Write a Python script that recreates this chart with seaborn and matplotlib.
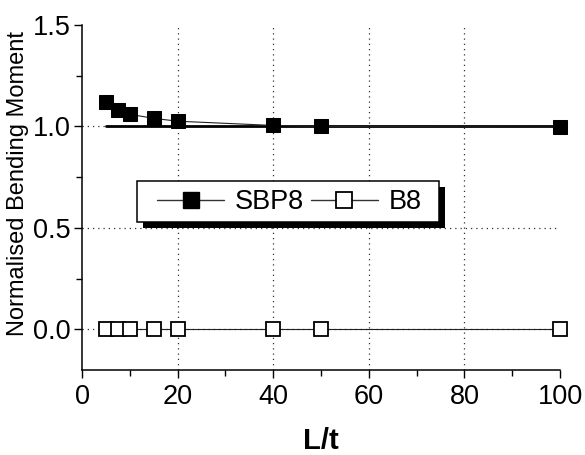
import matplotlib
matplotlib.use("Agg")
import matplotlib.pyplot as plt
import seaborn as sns
import pandas as pd
from matplotlib.lines import Line2D
from matplotlib.patches import Rectangle
from matplotlib.ticker import MultipleLocator, FormatStrFormatter

# ---- data ----
lt = [5, 7.5, 10, 15, 20, 40, 50, 100]
sbp8 = [1.12, 1.08, 1.06, 1.04, 1.026, 1.005, 1.0, 0.997]
b8 = [0.0, 0.0, 0.0, 0.0, 0.0, 0.0, 0.0, 0.0]
ref_x = [5, 100]
ref_y = [1.0, 1.0]
xticks = [0, 20, 40, 60, 80, 100]
yticks = [0.0, 0.5, 1.0, 1.5]
xgrid = [20, 40, 60, 80]
ygrid = [0.0, 0.5, 1.0]

sns.set_theme(style="white")
plt.rcParams['font.family'] = ['Liberation Sans', 'DejaVu Sans']

fig = plt.figure(figsize=(5.85, 4.55), dpi=100)
ax = fig.add_axes([82/585, 85/455, 478/585, 345/455])

df_s = pd.DataFrame({"x": lt, "y": sbp8})
df_b = pd.DataFrame({"x": lt, "y": b8})
df_r = pd.DataFrame({"x": ref_x, "y": ref_y})

grid_kw = dict(color="#333333", lw=0.9, ls=(0, (1, 3.2)), zorder=0)
for g in xgrid:
    ax.axvline(g, **grid_kw)
for g in ygrid:
    ax.axhline(g, **grid_kw)

sns.lineplot(data=df_r, x="x", y="y", ax=ax, color="black", lw=2.0, zorder=2)
sns.lineplot(data=df_s, x="x", y="y", ax=ax, color="#222222", lw=0.8,
             marker="s", markersize=10, markerfacecolor="black",
             markeredgecolor="black", zorder=3, clip_on=False)
sns.lineplot(data=df_b, x="x", y="y", ax=ax, color="#222222", lw=0.8,
             marker="s", markersize=10, markerfacecolor="white",
             markeredgecolor="black", markeredgewidth=1.3, zorder=3, clip_on=False)

ax.set_xlim(0, 100)
ax.set_ylim(-0.2, 1.5)
ax.set_xticks(xticks)
ax.set_yticks(yticks)
ax.xaxis.set_minor_locator(MultipleLocator(10))
ax.yaxis.set_minor_locator(MultipleLocator(0.25))
ax.yaxis.set_major_formatter(FormatStrFormatter("%.1f"))

for s in ["top", "right"]:
    ax.spines[s].set_visible(False)
for s in ["left", "bottom"]:
    ax.spines[s].set_color("black")
    ax.spines[s].set_linewidth(1.1)

ax.tick_params(axis="both", which="major", direction="out", length=6, width=1,
               color="black", labelsize=19.5, labelcolor="black",
               bottom=True, left=True)
ax.tick_params(axis="both", which="minor", direction="out", length=4, width=1,
               color="black", bottom=True, left=True)
ax.tick_params(axis="y", which="major", pad=2)
ax.tick_params(axis="x", which="major", pad=4)

ax.set_xlabel("L/t", fontsize=21, fontweight="bold", color="black", labelpad=12)
ax.set_ylabel("Normalised Bending Moment", fontsize=17, color="black")
ax.yaxis.set_label_coords(-0.11, 0.54)

# legend with shadowed frame
handles = [
    Line2D([], [], color="#333333", lw=1.0, marker="s", markersize=11,
           markerfacecolor="black", markeredgecolor="black"),
    Line2D([], [], color="#333333", lw=1.0, marker="s", markersize=11,
           markerfacecolor="white", markeredgecolor="black", markeredgewidth=1.3),
]
leg = ax.legend(handles, ["SBP8", "B8"], ncol=2, frameon=False,
                fontsize=19.5, handlelength=2.5, handletextpad=0.37,
                columnspacing=0.26, loc="center",
                bbox_to_anchor=(289/585, (455-202)/455),
                bbox_transform=fig.transFigure)
for t in leg.get_texts():
    t.set_color("black")

fx, fy, fw, fh = 137/585, (455-222)/455, 302/585, 41/455
shadow = Rectangle((fx + 6/585, fy - 6/455), fw, fh, transform=fig.transFigure,
                   facecolor="black", edgecolor="none", zorder=4)
frame = Rectangle((fx, fy), fw, fh, transform=fig.transFigure,
                  facecolor="white", edgecolor="black", lw=1.1, zorder=4.5)
fig.add_artist(shadow)
fig.add_artist(frame)
leg.set_zorder(6)
fig.add_artist(leg)

fig.savefig("out.png", dpi=100)
